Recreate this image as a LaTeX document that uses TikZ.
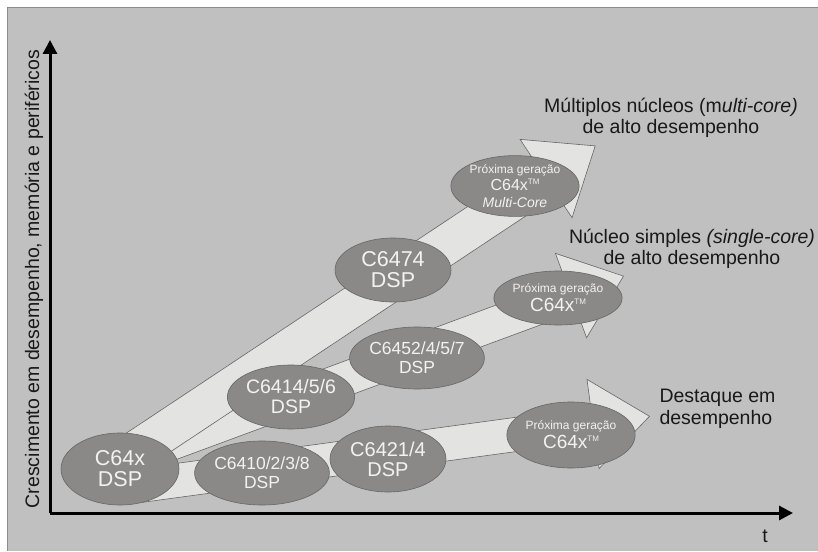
\documentclass[tikz,border=0pt]{standalone}
\usepackage{fontspec}
\setmainfont{Liberation Sans}
\usetikzlibrary{calc,shapes.geometric,arrows.meta}
\definecolor{panelgray}{HTML}{C0C0C0}
\definecolor{chipgray}{HTML}{8B8987}
\definecolor{bandgray}{HTML}{E3E3E1}
\newcommand\tmark{\raisebox{0.75ex}{\fontsize{8}{8}\selectfont TM}}
\begin{document}
\begin{tikzpicture}
[   x=1pt,y=-1pt,
    chip/.style={ellipse,draw=black!60,fill=#1,text=white!95!black,align=center,inner sep=0pt,line width=0.6pt},
    chip/.default=chipgray,
    band/.style={draw=black!60,fill=bandgray,line width=0.6pt},
    axis/.style={line width=3pt,-{Triangle[length=14pt,width=14pt]}},
    note/.style={align=center,text=black!90,font=\fontsize{19.5}{21.5}\selectfont},
]
    \useasboundingbox (0,0) rectangle (818,551);
    \fill[panelgray] (7,7) rectangle (818,551);
    \draw[black!45,line width=0.8pt] (818,7) -- (7,7) -- (7,551);

    % axes
    \coordinate (origin) at (50,513);
    \coordinate (ytop) at (50,40);
    \coordinate (xend) at (793,513);
    \draw[axis] (origin) -- (ytop);
    \draw[axis] (origin) -- (xend);
    \node[note] (tlabel) at (765,536) {t};
    \node[note,rotate=90] (ylabel) at (34,279) {Crescimento em desempenho, memória e periféricos};

    % the three growth paths, lowest first
    \coordinate (low-tail) at (140,485.5);
    \coordinate (low-tip) at (649.5,416.3);
    \coordinate (mid-tail) at (140,454.8);
    \coordinate (mid-tip) at (623.5,276.1);
    \coordinate (top-tail) at (125,458);
    \coordinate (top-tip) at (595.2,145.9);
    \foreach \tail/\tip/\sw/\hw/\hl in {low-tail/low-tip/17/45/57, mid-tail/mid-tip/17/45/56, top-tail/top-tip/20/47/59}
    {
        \coordinate (base) at ($(\tip)!\hl pt!(\tail)$);
        \draw[band] ($(\tail)!\sw pt!90:(\tip)$) -- ($(base)!\sw pt!90:(\tip)$)
            -- ($(base)!\hw pt!90:(\tip)$) -- (\tip) -- ($(base)!\hw pt!-90:(\tip)$)
            -- ($(base)!\sw pt!-90:(\tip)$) -- ($(\tail)!\sw pt!-90:(\tip)$) -- cycle;
    }

    % processors
    \node[chip,minimum width=118,minimum height=72,font=\fontsize{21.5}{21}\selectfont] (c64x) at (120,469) {C64x\\DSP};
    \node[chip,minimum width=116,minimum height=64,font=\fontsize{17.5}{19}\selectfont] (c6410) at (262,473) {C6410/2/3/8\\DSP};
    \node[chip,minimum width=116,minimum height=66,font=\fontsize{20}{20}\selectfont] (c6421) at (388,459) {C6421/4\\DSP};
    \node[chip,minimum width=118,minimum height=64,font=\fontsize{19.5}{20}\selectfont] (c6414) at (291,397) {C6414/5/6\\DSP};
    \node[chip,minimum width=110,minimum height=62,font=\fontsize{17.5}{19}\selectfont] (c6452) at (417,358) {C6452/4/5/7\\DSP};
    \node[chip,minimum width=116,minimum height=64,font=\fontsize{21.5}{21}\selectfont] (c6474) at (393,270) {C6474\\DSP};
    \node[chip,minimum width=110,minimum height=60,font=\fontsize{16}{17}\selectfont] (next-top) at (515,186)
        {{\fontsize{12}{17}\selectfont Próxima geração}\\C64x\tmark\\{\fontsize{14}{17}\selectfont\itshape Multi-Core}};
    \node[chip,minimum width=120,minimum height=54,font=\fontsize{19}{19}\selectfont] (next-mid) at (558,298)
        {{\fontsize{12}{19}\selectfont Próxima geração}\\C64x\tmark};
    \node[chip,minimum width=109,minimum height=66,font=\fontsize{19}{19}\selectfont] (next-low) at (571,435)
        {{\fontsize{12}{19}\selectfont Próxima geração}\\C64x\tmark};

    % where each path leads
    \node[note] (multi) at (671,118) {Múltiplos núcleos (m\textit{ulti-core)}\\de alto desempenho};
    \node[note] (single) at (692,249) {Núcleo simples \textit{(single-core)}\\de alto desempenho};
    \node[note,align=left,anchor=west] (peak) at (656,409) {Destaque em\\desempenho};
\end{tikzpicture}
\end{document}
